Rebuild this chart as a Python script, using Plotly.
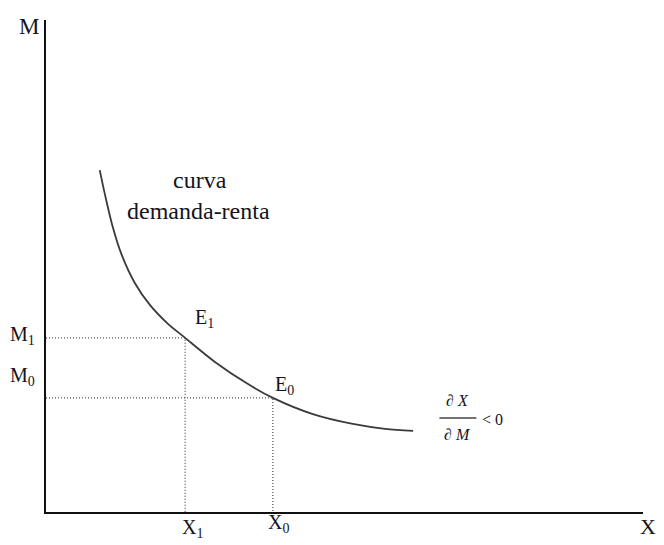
"""Curva demanda-renta: income (M) against quantity demanded (X)."""

import plotly.graph_objects as go

# Curve (X quantity, M income), arbitrary units
curve_x = [0.90, 0.99, 1.11, 1.27, 1.49, 1.74, 2.03, 2.33, 2.83, 3.37, 3.80, 4.47, 5.14, 5.68, 6.15]
curve_m = [6.95, 6.44, 5.83, 5.22, 4.65, 4.21, 3.84, 3.54, 3.05, 2.61, 2.32, 1.99, 1.79, 1.69, 1.65]

# Equilibria E1 and E0
eq_names = ["E<sub>1</sub>", "E<sub>0</sub>"]
eq_x = [2.33, 3.80]
eq_m = [3.54, 2.32]
x_labels = ["X<sub>1</sub>", "X<sub>0</sub>"]
m_labels = ["M<sub>1</sub>", "M<sub>0</sub>"]

X_MAX, M_MAX = 10, 10

SERIF = "Liberation Serif, Times New Roman, serif"
INK = "#141420"

fig = go.Figure()

# dotted guides from each equilibrium to the axes
for x, m in zip(eq_x, eq_m):
    fig.add_trace(
        go.Scatter(
            x=[0, x, x],
            y=[m, m, 0],
            mode="lines",
            line=dict(color="#555555", width=1.3, dash="1px,2px"),
            hoverinfo="skip",
            showlegend=False,
        )
    )

fig.add_trace(
    go.Scatter(
        x=curve_x,
        y=curve_m,
        mode="lines",
        line=dict(color="#3a3a3a", width=1.8, shape="spline", smoothing=0.9),
        showlegend=False,
    )
)

ann = []


def label(x, y, text, size=20):
    # positions given in data units, placed on paper so they may sit outside the axes
    ann.append(
        dict(
            x=x / X_MAX, y=y / M_MAX, xref="paper", yref="paper", text=text,
            xanchor="center", yanchor="middle", showarrow=False,
            font=dict(family=SERIF, size=size, color=INK),
        )
    )


# axis titles
label(-0.28, 9.86, "M", 23)
label(10.08, -0.30, "X", 22)

# tick-like labels for the equilibria
label(-0.39, 3.58, m_labels[0])
label(-0.39, 2.76, m_labels[1])
label(2.45, -0.34, x_labels[0])
label(3.90, -0.24, x_labels[1])
label(2.65, 3.94, eq_names[0])
label(4.00, 2.58, eq_names[1])

# curve name
label(2.58, 6.75, "curva", 24)
label(2.55, 6.12, "demanda-renta", 24)

# partial derivative sign
frac_x, frac_y = 6.90, 1.91
label(frac_x, frac_y + 0.36, "<i>∂ X</i>", 16)
label(frac_x, frac_y - 0.33, "<i>∂ M</i>", 16)
label(frac_x + 0.58, frac_y - 0.04, "&lt; 0", 16)

fig.add_shape(
    type="line", xref="paper", yref="paper",
    x0=(frac_x - 0.31) / X_MAX, x1=(frac_x + 0.31) / X_MAX,
    y0=frac_y / M_MAX, y1=frac_y / M_MAX,
    line=dict(color="#444444", width=1.5),
)

axis = dict(
    showgrid=False, zeroline=False, showticklabels=False, ticks="",
    showline=True, linecolor="#111111", linewidth=2, mirror=False,
    fixedrange=True,
)

# the page body adds an 8px offset at top/left, so the figure fills the rest
fig.update_layout(
    width=656,
    height=537,
    margin=dict(l=38, r=21, t=12, b=33),
    plot_bgcolor="white",
    paper_bgcolor="white",
    xaxis=dict(range=[0, X_MAX], **axis),
    yaxis=dict(range=[0, M_MAX], **axis),
    annotations=ann,
    showlegend=False,
)

fig.write_html("out.html")
